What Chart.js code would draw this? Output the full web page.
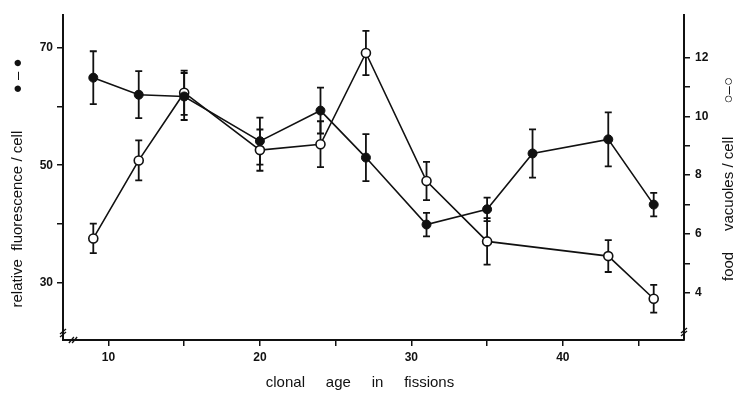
<!DOCTYPE html>
<html><head><meta charset="utf-8">
<script src="https://cdn.jsdelivr.net/npm/chart.js@4.4.1/dist/chart.umd.min.js"></script>
<style>html,body{margin:0;padding:0;background:#fff}</style>
</head><body>
<canvas id="c" width="739" height="394"></canvas>
<script>
// ---- data ----
const fissions = [9, 12, 15, 20, 24, 27, 31, 35, 38, 43, 46];
const fluorescence = [64.9, 62.0, 61.7, 54.1, 59.3, 51.3, 39.9, 42.5, 52.0, 54.4, 43.3];
const fluorescenceErr = [4.5, 4.0, 4.0, 4.0, 3.9, 4.0, 2.0, 2.0, 4.1, 4.6, 2.0];
const vacuoleFissions = [9, 12, 15, 20, 24, 27, 31, 35, 43, 46];
const vacuoles = [5.85, 8.5, 10.8, 8.85, 9.05, 12.15, 7.8, 5.75, 5.25, 3.8];
const vacuolesErr = [0.5, 0.68, 0.75, 0.7, 0.78, 0.75, 0.65, 0.79, 0.54, 0.47];

const xTicks = [10, 15, 20, 25, 30, 35, 40, 45];
const xLabels = [10, 20, 30, 40];
const leftTicks = [30, 40, 50, 60, 70];
const leftLabels = [30, 50, 70];
const rightTicks = [4, 5, 6, 7, 8, 9, 10, 11, 12];
const rightLabels = [4, 6, 8, 10, 12];

const xTitle = 'clonal     age     in     fissions';
const leftTitle = 'relative  fluorescence / cell         \u25CF \u2013 \u25CF';
const rightTitle = 'food     vacuoles / cell        \u25CB\u2013\u25CB';

const FONT = "'Liberation Sans', Arial, sans-serif";
const INK = '#111';

const errorMap = { fluor: fluorescenceErr, vac: vacuolesErr };

const errorBars = {
  id: 'errorBars',
  beforeDatasetsDraw(chart) {
    const ctx = chart.ctx;
    ctx.save();
    ctx.strokeStyle = INK;
    ctx.lineWidth = 1.8;
    chart.data.datasets.forEach((ds, i) => {
      const meta = chart.getDatasetMeta(i);
      const ys = chart.scales[ds.yAxisID];
      const errs = errorMap[ds.key];
      meta.data.forEach((pt, j) => {
        const v = ds.data[j].y, e = errs[j];
        const x = pt.x;
        const t = ys.getPixelForValue(v + e), b = ys.getPixelForValue(v - e);
        ctx.beginPath();
        ctx.moveTo(x, t); ctx.lineTo(x, b);
        ctx.moveTo(x - 3.5, t); ctx.lineTo(x + 3.5, t);
        ctx.moveTo(x - 3.5, b); ctx.lineTo(x + 3.5, b);
        ctx.stroke();
      });
    });
    ctx.restore();
  }
};

const decorations = {
  id: 'decorations',
  afterDraw(chart) {
    const { ctx, chartArea: a } = chart;
    ctx.save();
    ctx.fillStyle = INK;
    ctx.strokeStyle = INK;
    ctx.font = '15px ' + FONT;
    ctx.textAlign = 'center';
    ctx.textBaseline = 'middle';
    // bottom title
    ctx.fillText(xTitle, 360, 383);
    // left title (reads bottom to top)
    ctx.save(); ctx.translate(18, 183); ctx.rotate(-Math.PI / 2);
    ctx.fillText(leftTitle, 0, 0); ctx.restore();
    // right title (reads bottom to top)
    ctx.save(); ctx.translate(729, 179); ctx.rotate(-Math.PI / 2);
    ctx.fillText(rightTitle, 0, 0); ctx.restore();
    // axis break marks
    ctx.lineWidth = 1.3;
    const brk = (x, y, horiz) => {
      for (const d of [-1.6, 1.6]) {
        ctx.beginPath();
        if (horiz) { ctx.moveTo(x + d - 2.5, y + 3); ctx.lineTo(x + d + 2.5, y - 3); }
        else { ctx.moveTo(x - 3, y + d + 2.5); ctx.lineTo(x + 3, y + d - 2.5); }
        ctx.stroke();
      }
    };
    brk(a.left, a.bottom - 7, false);
    brk(a.left + 10, a.bottom, true);
    brk(a.right, a.bottom - 8, false);
    ctx.restore();
  }
};

const tickFont = { family: FONT, size: 12, weight: 'bold' };

new Chart(document.getElementById('c'), {
  type: 'line',
  data: {
    datasets: [
      {
        key: 'fluor',
        label: 'relative fluorescence / cell',
        data: fissions.map((x, i) => ({ x, y: fluorescence[i] })),
        yAxisID: 'yL',
        borderColor: INK, borderWidth: 1.6,
        pointBackgroundColor: INK, pointBorderColor: INK,
        pointRadius: 4.5, pointBorderWidth: 1,
        tension: 0, fill: false
      },
      {
        key: 'vac',
        label: 'food vacuoles / cell',
        data: vacuoleFissions.map((x, i) => ({ x, y: vacuoles[i] })),
        yAxisID: 'yR',
        borderColor: INK, borderWidth: 1.6,
        pointBackgroundColor: '#fff', pointBorderColor: INK,
        pointRadius: 4.5, pointBorderWidth: 1.6,
        tension: 0, fill: false
      }
    ]
  },
  options: {
    responsive: false,
    animation: false,
    devicePixelRatio: 1,
    layout: { padding: { top: 15, left: 0, right: 0, bottom: 0 } },
    plugins: { legend: { display: false }, tooltip: { enabled: false } },
    scales: {
      x: {
        type: 'linear', position: 'bottom', min: 7, max: 48,
        afterBuildTicks: s => { s.ticks = xTicks.map(v => ({ value: v })); },
        afterFit: s => { s.height = 54; },
        ticks: { autoSkip: false, maxRotation: 0, padding: 4, color: INK, font: tickFont,
                 callback: v => xLabels.includes(v) ? String(v) : '' },
        grid: { drawOnChartArea: false, drawTicks: true, tickLength: 6, color: INK, lineWidth: 1.5 },
        border: { display: true, color: INK, width: 2 }
      },
      yL: {
        type: 'linear', position: 'left', min: 20.25, max: 75.57,
        afterBuildTicks: s => { s.ticks = leftTicks.map(v => ({ value: v })); },
        afterFit: s => { s.width = 63; },
        ticks: { autoSkip: false, padding: 4, color: INK, font: tickFont,
                 callback: v => leftLabels.includes(v) ? String(v) : '' },
        grid: { drawOnChartArea: false, drawTicks: true, tickLength: 6, color: INK, lineWidth: 1.5 },
        border: { display: true, color: INK, width: 2 }
      },
      yR: {
        type: 'linear', position: 'right', min: 2.4, max: 13.44,
        afterBuildTicks: s => { s.ticks = rightTicks.map(v => ({ value: v })); },
        afterFit: s => { s.width = 55; },
        ticks: { autoSkip: false, padding: 5, color: INK, font: tickFont,
                 callback: v => rightLabels.includes(v) ? String(v) : '' },
        grid: { drawOnChartArea: false, drawTicks: true, tickLength: 6, color: INK, lineWidth: 1.5 },
        border: { display: true, color: INK, width: 2 }
      }
    }
  },
  plugins: [errorBars, decorations]
});
</script>
</body></html>
